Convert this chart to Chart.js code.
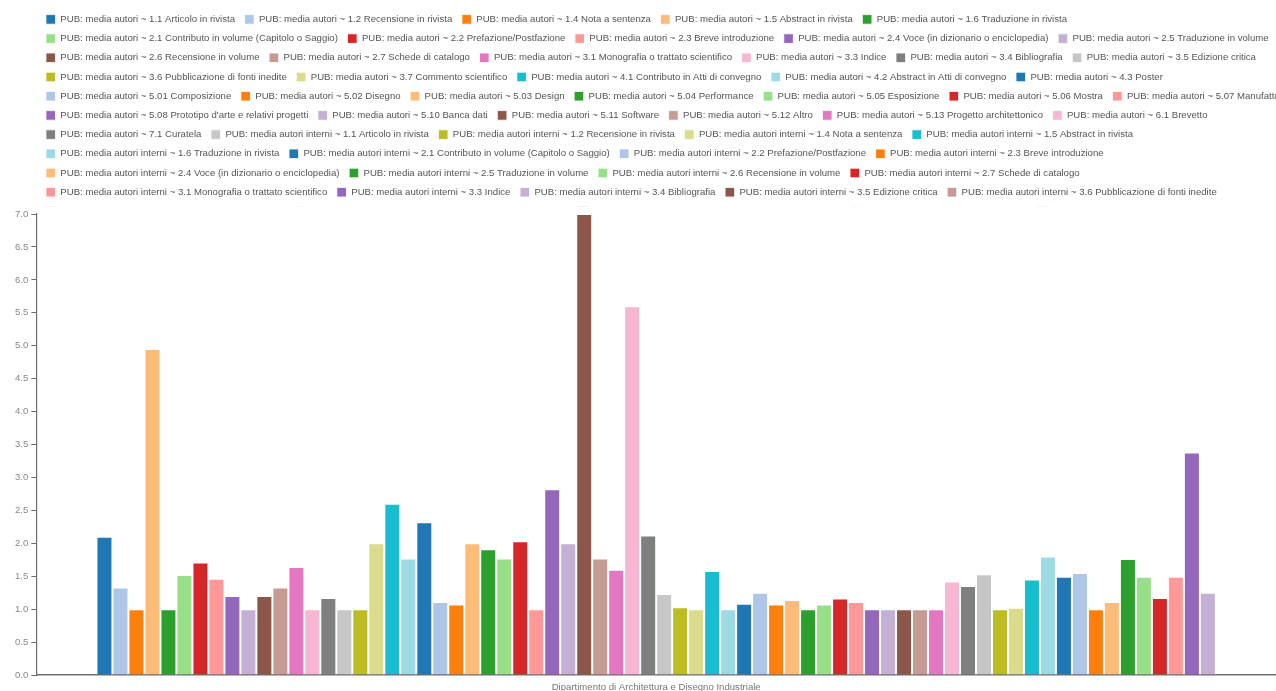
<!DOCTYPE html>
<html>
<head>
<meta charset="utf-8">
<title>PUB: media autori</title>
<script src="https://cdn.jsdelivr.net/npm/chart.js@4.4.1/dist/chart.umd.min.js"></script>
<style>
  html, body { margin: 0; padding: 0; background: #fff; }
  #wrap { width: 1276px; height: 691px; position: relative; }
</style>
</head>
<body>
<div id="wrap"><canvas id="bar"></canvas></div>
<script>
const categories = ["Dipartimento di Architettura e Disegno Industriale"];

const pubTypes = [
  "1.1 Articolo in rivista", "1.2 Recensione in rivista", "1.4 Nota a sentenza",
  "1.5 Abstract in rivista", "1.6 Traduzione in rivista",
  "2.1 Contributo in volume (Capitolo o Saggio)", "2.2 Prefazione/Postfazione",
  "2.3 Breve introduzione", "2.4 Voce (in dizionario o enciclopedia)",
  "2.5 Traduzione in volume", "2.6 Recensione in volume", "2.7 Schede di catalogo",
  "3.1 Monografia o trattato scientifico", "3.3 Indice", "3.4 Bibliografia",
  "3.5 Edizione critica", "3.6 Pubblicazione di fonti inedite",
  "3.7 Commento scientifico", "4.1 Contributo in Atti di convegno",
  "4.2 Abstract in Atti di convegno", "4.3 Poster", "5.01 Composizione",
  "5.02 Disegno", "5.03 Design", "5.04 Performance", "5.05 Esposizione",
  "5.06 Mostra", "5.07 Manufatto", "5.08 Prototipo d'arte e relativi progetti",
  "5.10 Banca dati", "5.11 Software", "5.12 Altro", "5.13 Progetto architettonico",
  "6.1 Brevetto", "7.1 Curatela"
];

// media autori, one value per type
const mediaAutori = [
  2.10, 1.33, 1.00, 4.95, 1.00, 1.52, 1.71, 1.46, 1.20, 1.00,
  1.20, 1.33, 1.64, 1.00, 1.17, 1.00, 1.00, 2.00, 2.60, 1.77,
  2.32, 1.11, 1.07, 2.00, 1.91, 1.77, 2.03, 1.00, 2.82, 2.00,
  7.00, 1.77, 1.60, 5.60, 2.12
];

// media autori interni, one value per type
const mediaAutoriInterni = [
  1.23, 1.03, 1.00, 1.58, 1.00, 1.08, 1.25, 1.07, 1.14, 1.00,
  1.07, 1.16, 1.11, 1.00, 1.00, 1.00, 1.00, 1.00, 1.42, 1.35,
  1.53, 1.00, 1.02, 1.45, 1.80, 1.49, 1.55, 1.00, 1.11, 1.76,
  1.49, 1.17, 1.49, 3.38, 1.25
];

const yTicks = [0, 0.5, 1, 1.5, 2, 2.5, 3, 3.5, 4, 4.5, 5, 5.5, 6, 6.5, 7];

const palette = [
  "#1f77b4", "#aec7e8", "#ff7f0e", "#ffbb78", "#2ca02c", "#98df8a",
  "#d62728", "#ff9896", "#9467bd", "#c5b0d5", "#8c564b", "#c49c94",
  "#e377c2", "#f7b6d2", "#7f7f7f", "#c7c7c7", "#bcbd22", "#dbdb8d",
  "#17becf", "#9edae5"
];

const FONT = "'Liberation Sans', Arial, Helvetica, sans-serif";

let barDatasets = [];
pubTypes.forEach((t, i) => {
  barDatasets.push({ label: "PUB: media autori ~ " + t, data: [mediaAutori[i]] });
});
pubTypes.forEach((t, i) => {
  barDatasets.push({ label: "PUB: media autori interni ~ " + t, data: [mediaAutoriInterni[i]] });
});
barDatasets = barDatasets.map((ds, i) => ({
  ...ds,
  backgroundColor: palette[i % palette.length],
  borderColor: "rgba(255,255,255,0.85)",
  borderWidth: 1,
}));

// legend rows may run up to the right edge of the page, like the original
const legendWide = {
  id: "legendWide",
  afterLayout(chart) {
    chart.legend.right = chart.width + 24;
  },
};

// the legend is taller than its box; hide the rows that run into the plot
const legendMask = {
  id: "legendMask",
  beforeDatasetsDraw(chart) {
    const { ctx, chartArea } = chart;
    const top = chartArea.top - 7;
    ctx.save();
    ctx.fillStyle = "#fff";
    ctx.fillRect(chartArea.left + 1, top, chartArea.right - chartArea.left, chartArea.bottom - top - 1);
    ctx.restore();
  },
};

const chart = new Chart(document.getElementById("bar"), {
  type: "bar",
  data: { labels: categories, datasets: barDatasets },
  options: {
    responsive: true,
    maintainAspectRatio: false,
    animation: false,
    layout: { padding: { top: 5, left: 12, right: 0, bottom: 0 } },
    datasets: { bar: { barPercentage: 1, categoryPercentage: 0.903 } },
    plugins: {
      tooltip: { enabled: false },
      legend: {
        position: "top",
        align: "start",
        fullSize: false,
        maxHeight: 209,
        labels: {
          color: "#555",
          font: { family: FONT, size: 9.6 },
          boxWidth: 9.6,
          boxHeight: 9.6,
          padding: 9.6,
        },
      },
    },
    scales: {
      x: {
        grid: { display: false, drawTicks: false },
        border: { display: true, color: "#6e6e6e", width: 1.5 },
        ticks: { color: "#777", padding: 8, font: { family: FONT, size: 9.6, lineHeight: 1 } },
        afterFit(axis) {
          axis.height = 16;
        },
      },
      y: {
        min: 0,
        max: 7,
        afterBuildTicks(axis) {
          axis.ticks = yTicks.map((v) => ({ value: v }));
        },
        grid: { display: true, drawOnChartArea: false, drawTicks: true, tickLength: 5, color: "#6e6e6e" },
        border: { display: true, color: "#6e6e6e", width: 1.5 },
        ticks: {
          color: "#888",
          padding: 3,
          font: { family: FONT, size: 9.6 },
          callback: (v) => Number(v).toFixed(1),
        },
      },
    },
  },
  plugins: [legendWide, legendMask],
});
</script>
</body>
</html>
